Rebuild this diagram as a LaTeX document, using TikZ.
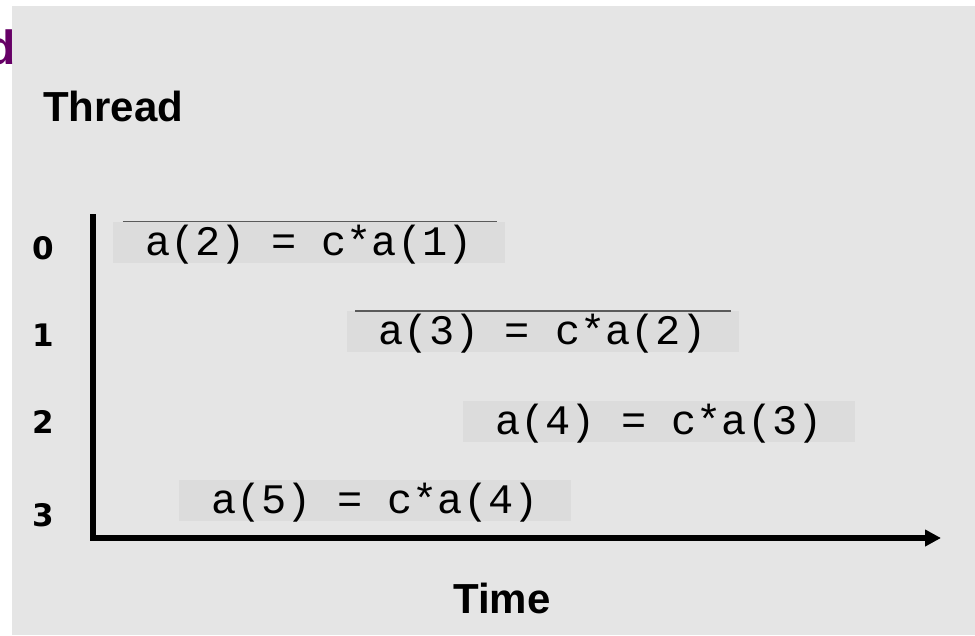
\documentclass[tikz,border=0pt]{standalone}
\usepackage{fontspec}
\setmainfont{Liberation Sans}
\newfontfamily\monofont{Liberation Mono}
\newfontfamily\digfont{DejaVu Sans}
\usetikzlibrary{arrows.meta}
\definecolor{panelgray}{HTML}{E5E5E5}
\definecolor{boxgray}{HTML}{DCDCDC}
\definecolor{topline}{HTML}{5A5A5A}
\definecolor{titlepurple}{HTML}{660066}
\tikzset{
  stmt/.style={fill=boxgray, minimum width=392pt, minimum height=41pt, inner sep=0pt,
    text height=26pt, text depth=0pt, font=\monofont\fontsize{42}{42}\selectfont},
  rowlbl/.style={anchor=base, inner sep=0pt, font=\digfont\bfseries\fontsize{31}{31}\selectfont},
  axislbl/.style={inner sep=0pt, font=\bfseries\fontsize{42}{42}\selectfont},
  axisline/.style={line width=5.5pt, black},
  overline/.style={topline, line width=1.6pt}
}
\begin{document}
\begin{tikzpicture}[x=1pt,y=-1pt]
\useasboundingbox (0,0) rectangle (975,635);
\fill[white] (0,0) rectangle (975,635);
\fill[panelgray] (12,6) rectangle (975,635);
\node[anchor=base west, inner sep=0pt, text=titlepurple, font=\bfseries\fontsize{48}{48}\selectfont] (title) at (-14,64) {d};
\node[axislbl, anchor=base west] (thread) at (43,121) {Thread};
\node[axislbl, anchor=base] (time) at (502,613) {Time};
% rows
\node[rowlbl] (r0) at (43,259) {0};
\node[rowlbl] (r1) at (43,346) {1};
\node[rowlbl] (r2) at (43,433) {2};
\node[rowlbl] (r3) at (43,526) {3};
% statements
\node[stmt] (s0) at (309,242) {a(2) = c*a(1)};
\node[stmt] (s1) at (542.5,331.5) {a(3) = c*a(2)};
\node[stmt] (s2) at (659,421) {a(4) = c*a(3)};
\node[stmt] (s3) at (375,500) {a(5) = c*a(4)};
\draw[overline] ([xshift=10pt]s0.north west) -- ([xshift=-8pt]s0.north east);
\draw[overline] ([xshift=9pt]s1.north west) -- ([xshift=-8pt]s1.north east);
% axes
\coordinate (ytop) at (93,214);
\coordinate (ybot) at (93,541);
\coordinate (xstart) at (90.25,538);
\coordinate (xend) at (941,538);
\draw[axisline] (ytop) -- (ybot);
\draw[axisline, -{Triangle[length=16pt,width=16pt]}] (xstart) -- (xend);
\end{tikzpicture}
\end{document}
